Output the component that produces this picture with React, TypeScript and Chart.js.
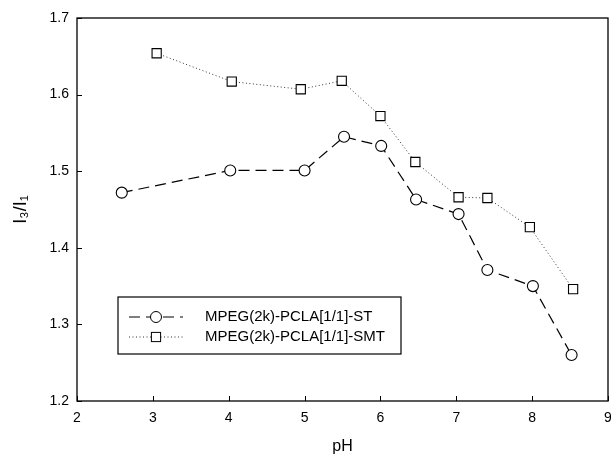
import React, { useEffect, useRef } from "react";
import { Chart, registerables } from "chart.js";

Chart.register(...registerables);

const stX = [2.59, 4.02, 5.0, 5.52, 6.01, 6.47, 7.03, 7.41, 8.01, 8.52];
const stY = [1.472, 1.501, 1.501, 1.545, 1.533, 1.463, 1.444, 1.371, 1.35, 1.26];
const smtX = [3.05, 4.04, 4.95, 5.49, 6.0, 6.46, 7.03, 7.41, 7.97, 8.54];
const smtY = [1.654, 1.617, 1.607, 1.618, 1.572, 1.512, 1.466, 1.465, 1.427, 1.346];
const seriesNames = ["MPEG(2k)-PCLA[1/1]-ST", "MPEG(2k)-PCLA[1/1]-SMT"];
const xTitle = "pH";
const yTitle = "I\u2083/I\u2081";

const FONT = "'Liberation Sans', Arial, sans-serif";

const framePlugin = {
  id: "frame",
  afterDraw(chart: any) {
    const { ctx, chartArea: a, scales } = chart;
    ctx.save();
    ctx.strokeStyle = "#000";
    ctx.lineWidth = 1.3;
    ctx.strokeRect(a.left, a.top, a.right - a.left, a.bottom - a.top);
    ctx.lineWidth = 1;
    scales.x.ticks.forEach((t: any) => {
      const px = Math.round(scales.x.getPixelForValue(t.value)) + 0.5;
      ctx.beginPath();
      ctx.moveTo(px, a.bottom);
      ctx.lineTo(px, a.bottom - 5);
      ctx.stroke();
    });
    scales.y.ticks.forEach((t: any) => {
      const py = Math.round(scales.y.getPixelForValue(t.value)) + 0.5;
      ctx.beginPath();
      ctx.moveTo(a.left, py);
      ctx.lineTo(a.left + 5, py);
      ctx.stroke();
    });
    const lx = a.left + 41;
    const ly = a.top + 279;
    const lw = 283;
    const lh = 57;
    ctx.fillStyle = "#fff";
    ctx.fillRect(lx, ly, lw, lh);
    ctx.lineWidth = 1.2;
    ctx.strokeRect(lx, ly, lw, lh);
    const rows = [ly + 20, ly + 40];
    ctx.font = `15px ${FONT}`;
    ctx.textBaseline = "middle";
    chart.data.datasets.forEach((ds: any, i: number) => {
      const y = rows[i];
      ctx.save();
      ctx.strokeStyle = ds.borderColor;
      ctx.lineWidth = ds.borderWidth;
      ctx.setLineDash(ds.borderDash);
      ctx.beginPath();
      ctx.moveTo(lx + 11, y);
      ctx.lineTo(lx + 65, y);
      ctx.stroke();
      ctx.restore();
      ctx.save();
      ctx.lineWidth = 1;
      ctx.strokeStyle = "#000";
      ctx.fillStyle = "#fff";
      if (ds.pointStyle === "circle") {
        ctx.beginPath();
        ctx.arc(lx + 38, y, ds.pointRadius, 0, Math.PI * 2);
        ctx.fill();
        ctx.stroke();
      } else {
        const s = ds.pointRadius * Math.SQRT1_2;
        ctx.fillRect(lx + 38 - s, y - s, 2 * s, 2 * s);
        ctx.strokeRect(lx + 38 - s, y - s, 2 * s, 2 * s);
      }
      ctx.restore();
      ctx.fillStyle = "#000";
      ctx.fillText(ds.label, lx + 87, y);
    });
    ctx.restore();
  },
};

export default function App() {
  const ref = useRef<HTMLCanvasElement>(null);
  useEffect(() => {
    if (!ref.current) return;
    const chart = new Chart(ref.current, {
      type: "line",
      data: {
        datasets: [
          {
            label: seriesNames[0],
            data: stX.map((x, i) => ({ x, y: stY[i] })),
            borderColor: "#000",
            borderWidth: 1.2,
            borderDash: [11, 6],
            pointStyle: "circle",
            pointRadius: 5.5,
            pointBorderWidth: 1.1,
            pointBackgroundColor: "#fff",
            pointBorderColor: "#000",
            tension: 0,
          },
          {
            label: seriesNames[1],
            data: smtX.map((x, i) => ({ x, y: smtY[i] })),
            borderColor: "#333",
            borderWidth: 1,
            borderDash: [1, 2.5],
            pointStyle: "rect",
            pointRadius: 6.5,
            pointBorderWidth: 1.1,
            pointBackgroundColor: "#fff",
            pointBorderColor: "#000",
            tension: 0,
          },
        ],
      },
      options: {
        animation: false,
        responsive: false,
        layout: { padding: { top: 18, right: 12, left: 0, bottom: 0 } },
        plugins: { legend: { display: false }, tooltip: { enabled: false } },
        scales: {
          x: {
            type: "linear",
            min: 2,
            max: 9,
            ticks: { stepSize: 1, color: "#000", font: { family: FONT, size: 14 }, padding: 1 },
            grid: { display: false },
            border: { display: false },
            title: { display: true, text: xTitle, color: "#000", font: { family: FONT, size: 16 }, padding: { top: 0, bottom: 0 } },
            afterFit: (s: any) => {
              s.height = 55;
            },
          },
          y: {
            type: "linear",
            min: 1.2,
            max: 1.7,
            ticks: {
              stepSize: 0.1,
              color: "#000",
              font: { family: FONT, size: 14 },
              padding: 0,
              callback: (v: any) => Number(v).toFixed(1),
            },
            grid: { display: false },
            border: { display: false },
            title: { display: true, text: yTitle, color: "#000", font: { family: FONT, size: 18 }, padding: { top: 10, bottom: 0 } },
            afterFit: (s: any) => {
              s.width = 77;
            },
          },
        },
      },
      plugins: [framePlugin],
    } as any);
    return () => chart.destroy();
  }, []);
  return (
    <div style={{ position: "absolute", left: 0, top: 0, width: 611, height: 456, overflow: "hidden", background: "#fff" }}>
      <canvas ref={ref} width={620} height={456} style={{ display: "block" }} />
    </div>
  );
}
